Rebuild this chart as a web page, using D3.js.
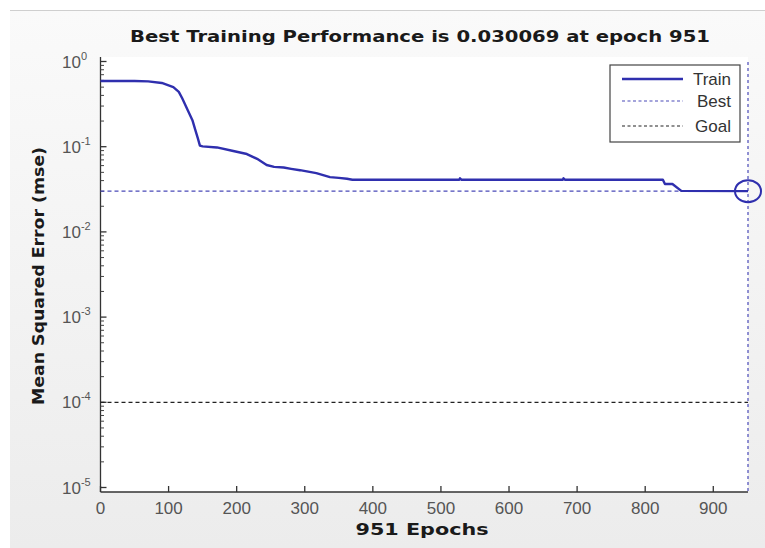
<!DOCTYPE html>
<html>
<head>
<meta charset="utf-8">
<script src="https://cdn.jsdelivr.net/npm/d3@7"></script>
<style>
  html, body { margin: 0; padding: 0; background: #ffffff; }
  svg { display: block; }
</style>
</head>
<body>
<script>
// ---- data ----
const titleText = "Best Training Performance is 0.030069 at epoch 951";
const xLabelText = "951 Epochs";
const yLabelText = "Mean Squared Error  (mse)";
const xTicks = [0, 100, 200, 300, 400, 500, 600, 700, 800, 900];
const yTickExponents = [0, -1, -2, -3, -4, -5];
const trainEpochs = [0, 50, 70, 90, 107, 115, 120, 128, 135, 139, 143, 146, 150, 171, 195, 215, 230, 244, 255, 269, 280, 293, 317, 337, 350, 362, 370, 381, 527, 528, 530, 679, 680, 682, 826, 829, 840, 853, 951];
const trainMse    = [0.59, 0.59, 0.585, 0.56, 0.50, 0.44, 0.37, 0.27, 0.205, 0.16, 0.125, 0.103, 0.101, 0.098, 0.089, 0.082, 0.072, 0.061, 0.058, 0.057, 0.055, 0.053, 0.049, 0.044, 0.043, 0.042, 0.041, 0.041, 0.041, 0.0425, 0.041, 0.041, 0.0425, 0.041, 0.041, 0.0365, 0.0365, 0.0303, 0.030069];
const bestEpoch = 951;
const bestMse = 0.030069;
const goalMse = 1e-4;
const legendLabels = ["Train", "Best", "Goal"];

// ---- layout ----
const W = 765, H = 548;
const svg = d3.select("body").append("svg").attr("width", W).attr("height", H);

const defs = svg.append("defs");
const grad = defs.append("linearGradient").attr("id", "bg").attr("x1", 0).attr("y1", 0).attr("x2", 0).attr("y2", 1);
grad.append("stop").attr("offset", "0%").attr("stop-color", "#fafafa");
grad.append("stop").attr("offset", "100%").attr("stop-color", "#ececec");

svg.append("rect").attr("x", 0).attr("y", 0).attr("width", W).attr("height", H).attr("fill", "#ffffff");
svg.append("rect").attr("x", 10).attr("y", 11).attr("width", W - 10).attr("height", H - 11).attr("fill", "url(#bg)");
svg.append("line").attr("x1", 10).attr("x2", W).attr("y1", 10.5).attr("y2", 10.5).attr("stroke", "#cfcfcf").attr("stroke-width", 1.2);

const axLeft = 100.5, axRight = 748, axTop = 57, axBottom = 492;
const x = d3.scaleLinear().domain([0, 951]).range([axLeft, axRight]);
const y = d3.scaleLog().domain([1, 1e-5]).range([61.5, 487.5]);

// axes background
svg.append("rect").attr("x", axLeft).attr("y", axTop).attr("width", axRight - axLeft).attr("height", axBottom - axTop).attr("fill", "#ffffff");

// title
svg.append("text").attr("x", 420).attr("y", 42).attr("text-anchor", "middle")
  .attr("font-family", "DejaVu Sans").attr("font-weight", "bold").attr("font-size", 15.5)
  .attr("fill", "#1a1a1a").attr("textLength", 580).attr("lengthAdjust", "spacingAndGlyphs")
  .text(titleText);

// x axis
const gx = svg.append("g").attr("transform", `translate(0,${axBottom})`);
gx.append("line").attr("x1", axLeft).attr("x2", axRight).attr("stroke", "#333").attr("stroke-width", 1.3);
gx.selectAll("line.tick").data(xTicks).join("line").attr("class", "tick")
  .attr("x1", d => x(d)).attr("x2", d => x(d)).attr("y1", 0).attr("y2", -6)
  .attr("stroke", "#333").attr("stroke-width", 1.3);
gx.selectAll("text").data(xTicks).join("text")
  .attr("x", d => x(d)).attr("y", 22).attr("text-anchor", "middle")
  .attr("font-family", "Liberation Sans, Arial, sans-serif").attr("font-size", 17).attr("fill", "#555")
  .text(d => d);

// y axis
const gy = svg.append("g");
gy.append("line").attr("x1", axLeft).attr("x2", axLeft).attr("y1", axTop).attr("y2", axBottom).attr("stroke", "#333").attr("stroke-width", 1.3);
const minor = [];
for (let e = -5; e < 0; e++) for (let m = 2; m <= 9; m++) minor.push(m * Math.pow(10, e));
gy.selectAll("line.minor").data(minor).join("line").attr("class", "minor")
  .attr("x1", axLeft).attr("x2", axLeft + 3.5).attr("y1", d => y(d)).attr("y2", d => y(d))
  .attr("stroke", "#444").attr("stroke-width", 1);
gy.selectAll("line.major").data(yTickExponents).join("line").attr("class", "major")
  .attr("x1", axLeft).attr("x2", axLeft + 6).attr("y1", d => y(Math.pow(10, d))).attr("y2", d => y(Math.pow(10, d)))
  .attr("stroke", "#333").attr("stroke-width", 1.3);
const ylab = gy.selectAll("text").data(yTickExponents).join("text")
  .attr("x", 62).attr("y", d => y(Math.pow(10, d)) + 6).attr("text-anchor", "start")
  .attr("font-family", "Liberation Sans, Arial, sans-serif").attr("font-size", 17).attr("fill", "#555");
ylab.append("tspan").text("10");
ylab.append("tspan").attr("dy", -8).attr("font-size", 11).text(d => d);

// goal line
svg.append("line").attr("x1", axLeft).attr("x2", axRight).attr("y1", y(goalMse)).attr("y2", y(goalMse))
  .attr("stroke", "#222").attr("stroke-width", 1.2).attr("stroke-dasharray", "4,3");
// best horizontal line
svg.append("line").attr("x1", axLeft).attr("x2", axRight).attr("y1", y(bestMse)).attr("y2", y(bestMse))
  .attr("stroke", "#4a4ab8").attr("stroke-width", 1.2).attr("stroke-dasharray", "4,3");
// best vertical line
svg.append("line").attr("x1", x(bestEpoch)).attr("x2", x(bestEpoch)).attr("y1", axTop + 5).attr("y2", axBottom)
  .attr("stroke", "#4a4ab8").attr("stroke-width", 1.2).attr("stroke-dasharray", "3,3");

// train line
const pts = trainEpochs.map((e, i) => [e, trainMse[i]]);
svg.append("path").datum(pts)
  .attr("d", d3.line().x(d => x(d[0])).y(d => y(d[1])))
  .attr("fill", "none").attr("stroke", "#2f2fae").attr("stroke-width", 2.4).attr("stroke-linejoin", "round");

// best circle
svg.append("ellipse").attr("cx", x(bestEpoch)).attr("cy", y(bestMse)).attr("rx", 13).attr("ry", 11)
  .attr("fill", "none").attr("stroke", "#2f2fae").attr("stroke-width", 2);

// legend
const lg = svg.append("g");
lg.append("rect").attr("x", 610).attr("y", 65).attr("width", 130).attr("height", 77)
  .attr("fill", "#ffffff").attr("stroke", "#444").attr("stroke-width", 1.2);
const legY = [79, 101, 126];
const legStroke = ["#2f2fae", "#4a4ab8", "#222"];
const legDash = [null, "3,2.5", "3,2.5"];
const legW = [2.4, 1.2, 1.2];
legendLabels.forEach((lab, i) => {
  lg.append("line").attr("x1", 622).attr("x2", 683).attr("y1", legY[i]).attr("y2", legY[i])
    .attr("stroke", legStroke[i]).attr("stroke-width", legW[i]).attr("stroke-dasharray", legDash[i]);
  lg.append("text").attr("x", 731).attr("y", legY[i] + 6).attr("text-anchor", "end")
    .attr("font-family", "Liberation Sans, Arial, sans-serif").attr("font-size", 17).attr("fill", "#333")
    .text(lab);
});

// axis labels
svg.append("text").attr("x", 422).attr("y", 535).attr("text-anchor", "middle")
  .attr("font-family", "DejaVu Sans").attr("font-weight", "bold").attr("font-size", 16)
  .attr("fill", "#1a1a1a").attr("textLength", 133).attr("lengthAdjust", "spacingAndGlyphs")
  .text(xLabelText);
svg.append("text").attr("transform", "translate(44,276) rotate(-90)").attr("text-anchor", "middle")
  .attr("font-family", "DejaVu Sans").attr("font-weight", "bold").attr("font-size", 16)
  .attr("fill", "#1a1a1a").attr("textLength", 258).attr("lengthAdjust", "spacingAndGlyphs")
  .text(yLabelText);
</script>
</body>
</html>
